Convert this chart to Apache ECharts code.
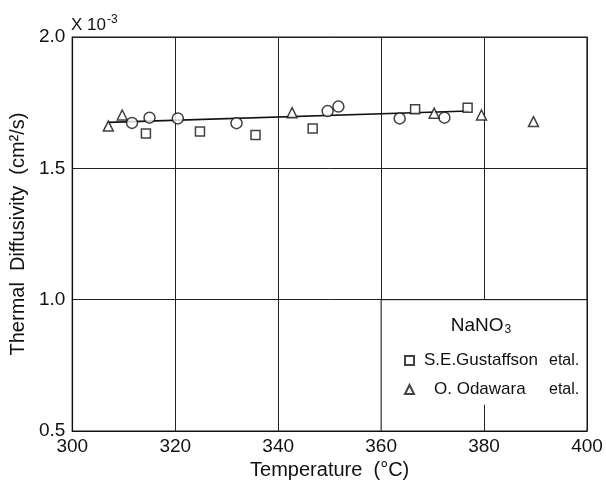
<!DOCTYPE html>
<html>
<head>
<meta charset="utf-8">
<script src="https://cdn.jsdelivr.net/npm/echarts@6/dist/echarts.min.js"></script>
<style>
  html, body { margin: 0; padding: 0; background: #fff; }
  #chart { width: 606px; height: 487px; }
</style>
</head>
<body>
<div id="chart"></div>
<script>
// values (temperature in degC, diffusivity x10^-3 cm2/s)
var circleTemp = [311.6, 315.0, 320.5, 331.9, 349.6, 351.7, 363.6, 372.3];
var circleVal = [1.673, 1.693, 1.690, 1.672, 1.718, 1.735, 1.690, 1.693];

var gustTemp = [314.3, 324.8, 335.6, 346.7, 366.6, 376.8];
var gustVal = [1.633, 1.640, 1.627, 1.652, 1.725, 1.731];

var odaTemp = [307.0, 309.7, 342.7, 370.3, 379.5, 389.6];
var odaVal = [1.661, 1.703, 1.712, 1.710, 1.703, 1.678];

var fitTemp = [307, 377];
var fitVal = [1.675, 1.718];

var xTicks = [300, 320, 340, 360, 380, 400];
var yTicks = [0.5, 1.0, 1.5, 2.0];

function pairs(xs, ys) {
  var out = [];
  for (var i = 0; i < xs.length; i++) {
    out.push([xs[i], ys[i]]);
  }
  return out;
}

var font = 'Liberation Sans, Arial, sans-serif';
var myChart = echarts.init(document.getElementById('chart'));

myChart.setOption({
  animation: false,
  backgroundColor: '#fff',
  textStyle: { fontFamily: font, color: '#111' },
  title: [
    {
      text: '{a|X 10}{b|-3}',
      left: 66,
      top: 9,
      textStyle: {
        fontWeight: 'normal',
        rich: {
          a: { fontSize: 17, fontFamily: font, color: '#111', fontWeight: 'normal', verticalAlign: 'bottom' },
          b: { fontSize: 12, fontFamily: font, color: '#111', fontWeight: 'normal', verticalAlign: 'top', padding: [0, 0, 8, 1] }
        }
      }
    },
    {
      text: '{a|NaNO}{b|3}',
      left: 476,
      top: 311,
      textAlign: 'center',
      textStyle: {
        fontWeight: 'normal',
        rich: {
          a: { fontSize: 19, fontFamily: font, color: '#111', fontWeight: 'normal' },
          b: { fontSize: 12, fontFamily: font, color: '#111', fontWeight: 'normal', padding: [8, 0, 0, 1] }
        }
      }
    }
  ],
  legend: {
    orient: 'vertical',
    left: 399,
    top: 347,
    itemWidth: 9,
    itemHeight: 9,
    itemGap: 12,
    textStyle: {
      fontSize: 15,
      fontFamily: font,
      color: '#111',
      rich: {
        p: { width: 5 },
        q: { width: 15 },
        g: { width: 125, fontSize: 17, fontFamily: font, color: '#111' },
        o: { width: 115, fontSize: 17, fontFamily: font, color: '#111' },
        e: { fontSize: 16, fontFamily: font, color: '#111' }
      }
    },
    formatter: function (name) {
      if (name === 'S.E.Gustaffson') {
        return '{p|}{g|S.E.Gustaffson}{e|etal.}';
      }
      return '{q|}{o|O. Odawara}{e|etal.}';
    },
    data: [
      { name: 'S.E.Gustaffson', icon: 'rect' },
      { name: 'O. Odawara', icon: 'triangle' }
    ]
  },
  grid: {
    left: 69,
    right: 19,
    top: 37,
    bottom: 56,
    show: true,
    borderColor: '#111',
    borderWidth: 1.2
  },
  xAxis: {
    type: 'value',
    min: 300,
    max: 400,
    interval: 20,
    name: 'Temperature  (\u00b0C)',
    nameLocation: 'middle',
    nameGap: 27,
    nameTextStyle: { fontSize: 20, fontFamily: font, color: '#111' },
    axisLine: { show: true, lineStyle: { color: '#111', width: 1.2 } },
    axisTick: { show: false },
    axisLabel: {
      fontSize: 19,
      color: '#111',
      margin: 6,
      formatter: function (v) { return xTicks.indexOf(v) >= 0 ? String(v) : ''; }
    },
    splitLine: { show: true, lineStyle: { color: '#222', width: 1 } }
  },
  yAxis: {
    type: 'value',
    min: 0.5,
    max: 2.0,
    interval: 0.5,
    name: 'Thermal  Diffusivity  (cm\u00b2/s)',
    nameLocation: 'middle',
    nameGap: 37,
    nameTextStyle: { fontSize: 20, fontFamily: font, color: '#111', padding: [0, 0, 0, 0] },
    axisLine: { show: true, lineStyle: { color: '#111', width: 1.2 } },
    axisTick: { show: false },
    axisLabel: {
      fontSize: 19,
      color: '#111',
      margin: 7,
      formatter: function (v) { return yTicks.indexOf(v) >= 0 ? v.toFixed(1) : ''; }
    },
    splitLine: { show: true, lineStyle: { color: '#222', width: 1 } }
  },
  series: [
    {
      // white legend panel over the lower right cell
      type: 'line',
      data: [],
      silent: true,
      markArea: {
        silent: true,
        itemStyle: { color: '#fff', borderColor: '#111', borderWidth: 1 },
        data: [[{ coord: [360, 0.5] }, { coord: [400, 1.0] }]]
      },
      markLine: {
        silent: true,
        symbol: 'none',
        label: { show: false },
        lineStyle: { color: '#222', width: 1, type: 'solid' },
        data: [[{ coord: [380, 0.5] }, { coord: [380, 0.6] }]]
      }
    },
    {
      type: 'line',
      data: pairs(fitTemp, fitVal),
      symbol: 'none',
      lineStyle: { color: '#111', width: 1.6 },
      z: 3
    },
    {
      type: 'scatter',
      data: pairs(circleTemp, circleVal),
      symbol: 'circle',
      symbolSize: 11,
      itemStyle: { color: '#fff', borderColor: '#111', borderWidth: 1.5 },
      z: 4
    },
    {
      name: 'S.E.Gustaffson',
      type: 'scatter',
      data: pairs(gustTemp, gustVal),
      symbol: 'rect',
      symbolSize: 9,
      itemStyle: { color: '#fff', borderColor: '#111', borderWidth: 1.5 },
      z: 4
    },
    {
      name: 'O. Odawara',
      type: 'scatter',
      data: pairs(odaTemp, odaVal),
      symbol: 'triangle',
      symbolSize: 10,
      itemStyle: { color: '#fff', borderColor: '#111', borderWidth: 1.5 },
      z: 4
    }
  ]
});
</script>
</body>
</html>
